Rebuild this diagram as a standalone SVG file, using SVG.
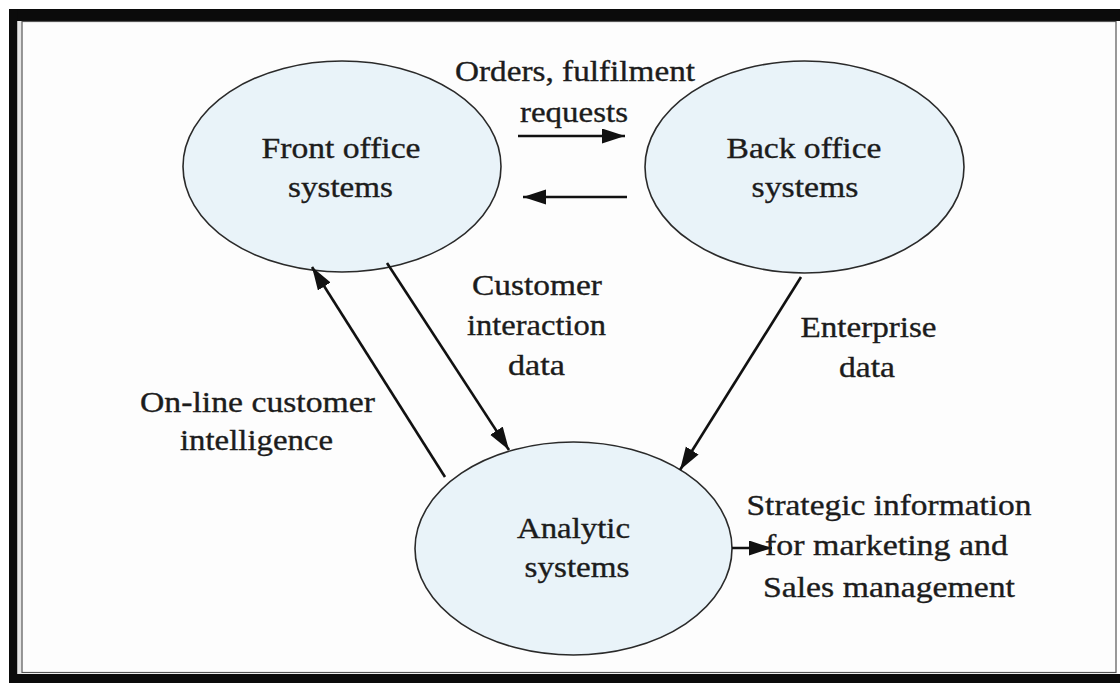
<svg xmlns="http://www.w3.org/2000/svg" width="1120" height="683" viewBox="0 0 1120 683">
  <style>
    .node ellipse { fill: #e9f3f9; stroke: #2a2a2a; stroke-width: 1.6; }
    text { font-family: 'Liberation Serif', Tinos, 'Times New Roman', Times, serif; font-size: 29px; fill: #1c1c1c; text-anchor: middle; stroke: #1c1c1c; stroke-width: 0.35; }
    .conn line { stroke: #111; stroke-width: 2.6; fill: none; marker-end: url(#head); }
  </style>
  <defs>
    <marker id="head" markerUnits="userSpaceOnUse" markerWidth="24" markerHeight="16" refX="23" refY="7.5" orient="auto">
      <path d="M0,0 L23,7.5 L0,15 Z" fill="#111"/>
    </marker>
  </defs>

  <!-- page background and frame -->
  <rect x="0" y="0" width="1120" height="683" fill="#ffffff"/>
  <rect x="9" y="9" width="1111" height="12" fill="#0b0b0b"/>
  <rect x="9" y="9" width="8.5" height="674" fill="#0b0b0b"/>
  <rect x="9" y="674" width="1111" height="9" fill="#0b0b0b"/>
  <rect x="17.5" y="21" width="4" height="653" fill="#e6e6e6"/>
  <rect x="22" y="21.5" width="1094" height="651" fill="#fdfdfd" stroke="#555" stroke-width="1.2"/>

  <!-- nodes -->
  <g id="front-office" class="node">
    <ellipse cx="342" cy="166.5" rx="159" ry="105.5"/>
    <text font-family="Liberation Serif, serif" x="341" y="158" textLength="159" lengthAdjust="spacingAndGlyphs">Front office</text>
    <text font-family="Liberation Serif, serif" x="340.5" y="197" textLength="105" lengthAdjust="spacingAndGlyphs">systems</text>
  </g>
  <g id="back-office" class="node">
    <ellipse cx="804.5" cy="167" rx="159.5" ry="106"/>
    <text font-family="Liberation Serif, serif" x="804" y="158" textLength="155" lengthAdjust="spacingAndGlyphs">Back office</text>
    <text font-family="Liberation Serif, serif" x="805" y="197" textLength="107" lengthAdjust="spacingAndGlyphs">systems</text>
  </g>
  <g id="analytic" class="node">
    <ellipse cx="573.5" cy="548.5" rx="158.5" ry="106.5"/>
    <text font-family="Liberation Serif, serif" x="573.5" y="538" textLength="113" lengthAdjust="spacingAndGlyphs">Analytic</text>
    <text font-family="Liberation Serif, serif" x="577" y="577" textLength="105" lengthAdjust="spacingAndGlyphs">systems</text>
  </g>

  <!-- connectors -->
  <g id="connectors" class="conn">
    <line x1="518" y1="136" x2="625" y2="136"/>
    <line x1="627" y1="197" x2="523" y2="197"/>
    <line x1="387" y1="263" x2="509" y2="450"/>
    <line x1="445" y1="477" x2="312" y2="267"/>
    <line x1="801" y1="277" x2="680" y2="470"/>
    <line x1="732" y1="548" x2="772" y2="548"/>
  </g>

  <!-- connector labels -->
  <g id="labels" font-family="Liberation Serif, serif">
    <text x="575" y="81" textLength="240" lengthAdjust="spacingAndGlyphs">Orders, fulfilment</text>
    <text x="574" y="122" textLength="108" lengthAdjust="spacingAndGlyphs">requests</text>

    <text x="537" y="295" textLength="130" lengthAdjust="spacingAndGlyphs">Customer</text>
    <text x="536.5" y="335" textLength="139" lengthAdjust="spacingAndGlyphs">interaction</text>
    <text x="536.5" y="375" textLength="57" lengthAdjust="spacingAndGlyphs">data</text>

    <text x="868.5" y="337" textLength="136" lengthAdjust="spacingAndGlyphs">Enterprise</text>
    <text x="867" y="377" textLength="56" lengthAdjust="spacingAndGlyphs">data</text>

    <text x="257.5" y="412" textLength="235" lengthAdjust="spacingAndGlyphs">On-line customer</text>
    <text x="256.5" y="450" textLength="153" lengthAdjust="spacingAndGlyphs">intelligence</text>

    <text x="889" y="515" textLength="285" lengthAdjust="spacingAndGlyphs">Strategic information</text>
    <text x="886.5" y="555" textLength="243" lengthAdjust="spacingAndGlyphs">for marketing and</text>
    <text x="889" y="597" textLength="252" lengthAdjust="spacingAndGlyphs">Sales management</text>
  </g>
</svg>
